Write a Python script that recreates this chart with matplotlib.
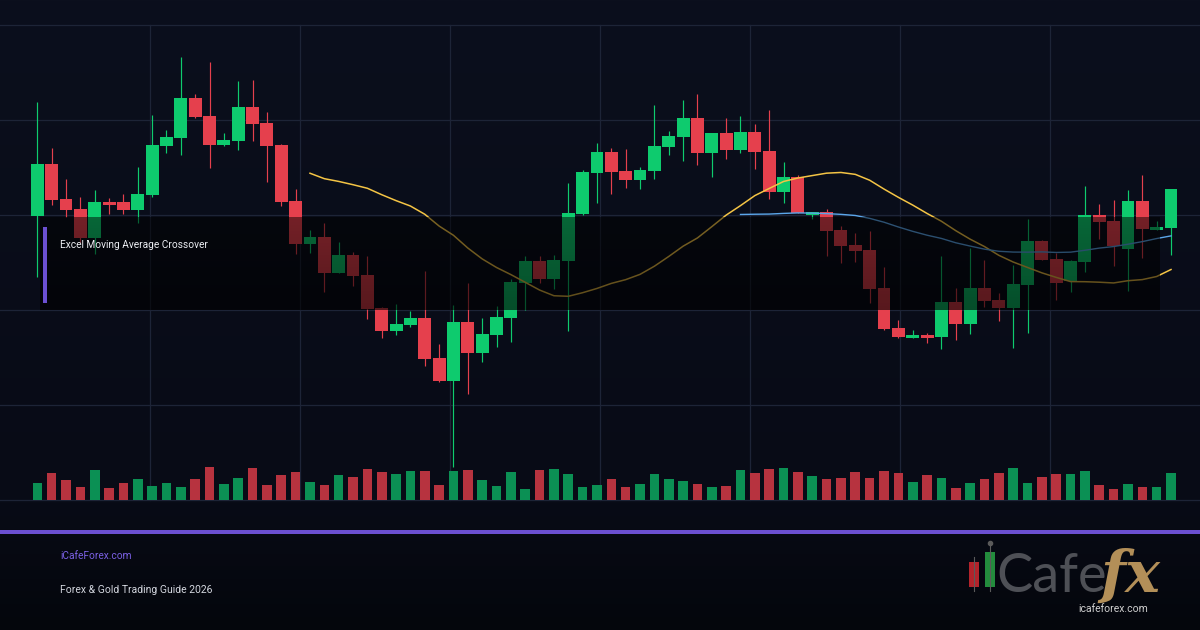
import numpy as np
import pandas as pd
import matplotlib
matplotlib.use("Agg")
import matplotlib.pyplot as plt
from matplotlib.patches import Rectangle

# ---------------- data ----------------
opens = [2184.3, 2236.0, 2201.0, 2191.0, 2162.3, 2198.0, 2198.0, 2190.0, 2205.0, 2254.0,
         2262.0, 2302.0, 2284.0, 2255.0, 2259.0, 2293.0, 2277.0, 2255.0, 2199.0, 2156.0,
         2163.0, 2127.3, 2145.0, 2125.0, 2091.7, 2069.3, 2075.3, 2082.3, 2042.3, 2019.0,
         2078.0, 2047.3, 2065.0, 2082.3, 2117.3, 2139.0, 2121.0, 2139.0, 2186.0, 2227.0,
         2248.0, 2229.0, 2220.0, 2229.0, 2253.0, 2263.0, 2282.0, 2247.0, 2267.0, 2250.0,
         2268.0, 2249.0, 2208.0, 2223.0, 2185.3, 2188.0, 2170.0, 2155.0, 2150.0, 2112.0,
         2072.0, 2062.3, 2065.0, 2063.0, 2098.0, 2076.0, 2112.0, 2100.0, 2092.0, 2115.0,
         2159.3, 2141.0, 2119.0, 2138.3, 2185.0, 2179.0, 2151.3, 2199.0, 2170.0, 2172.0]
highs = [2298.3, 2252.3, 2221.0, 2203.3, 2210.0, 2202.0, 2206.0, 2233.3, 2285.0, 2270.3,
         2343.3, 2306.0, 2338.0, 2267.3, 2319.3, 2320.0, 2288.3, 2256.0, 2211.0, 2170.0,
         2176.7, 2157.7, 2148.3, 2144.0, 2093.3, 2096.0, 2089.3, 2129.0, 2056.0, 2094.7,
         2117.3, 2082.3, 2094.0, 2120.7, 2144.0, 2144.0, 2145.0, 2217.0, 2230.0, 2257.0,
         2252.0, 2251.0, 2233.0, 2295.0, 2269.0, 2300.0, 2306.0, 2267.0, 2282.0, 2284.0,
         2276.0, 2290.0, 2238.0, 2225.0, 2188.0, 2191.0, 2174.0, 2167.0, 2169.0, 2133.0,
         2080.0, 2070.0, 2067.3, 2144.0, 2112.3, 2152.3, 2140.0, 2107.3, 2135.0, 2181.0,
         2160.0, 2147.0, 2140.0, 2214.0, 2196.0, 2200.0, 2210.0, 2225.0, 2179.0, 2211.0]
lows = [2123.3, 2195.0, 2183.3, 2157.0, 2146.0, 2186.3, 2186.3, 2177.3, 2202.7, 2247.3,
        2245.0, 2282.0, 2232.3, 2254.0, 2250.0, 2259.3, 2218.3, 2194.3, 2146.3, 2147.0,
        2108.0, 2127.0, 2114.3, 2080.7, 2062.3, 2065.0, 2073.3, 2034.0, 2018.3, 1933.0,
        2005.7, 2038.3, 2053.3, 2058.3, 2090.0, 2117.3, 2111.0, 2069.3, 2185.0, 2197.3,
        2206.3, 2212.3, 2211.3, 2221.0, 2245.0, 2239.3, 2235.0, 2223.3, 2241.0, 2247.0,
        2231.0, 2201.0, 2197.3, 2187.3, 2181.3, 2144.3, 2137.3, 2138.3, 2097.3, 2070.5,
        2062.0, 2062.3, 2057.3, 2051.3, 2060.0, 2066.3, 2093.3, 2079.3, 2052.3, 2067.3,
        2140.0, 2100.0, 2108.3, 2128.3, 2161.0, 2134.0, 2109.3, 2142.0, 2170.0, 2145.0]
closes = [2236.0, 2200.0, 2190.0, 2162.3, 2198.0, 2195.0, 2190.0, 2206.0, 2255.0, 2263.0,
          2302.0, 2283.0, 2255.0, 2260.0, 2293.0, 2276.0, 2254.0, 2198.0, 2156.0, 2163.0,
          2127.3, 2145.0, 2124.3, 2091.0, 2069.3, 2076.3, 2082.3, 2041.3, 2019.0, 2078.0,
          2047.3, 2066.0, 2083.0, 2118.0, 2139.0, 2121.0, 2140.0, 2187.0, 2228.0, 2248.0,
          2228.3, 2220.0, 2230.0, 2254.0, 2264.0, 2282.0, 2247.0, 2267.0, 2250.0, 2268.0,
          2248.0, 2208.0, 2223.0, 2187.3, 2188.0, 2169.0, 2154.0, 2149.0, 2111.0, 2071.3,
          2063.0, 2065.0, 2062.3, 2098.0, 2076.0, 2112.0, 2099.0, 2092.0, 2116.0, 2159.3,
          2140.0, 2117.0, 2139.0, 2185.0, 2178.0, 2154.0, 2199.0, 2171.0, 2173.0, 2211.0]
volumes = [16.7, 26.7, 19.7, 12.7, 29.7, 11.7, 16.7, 20.7, 13.7, 16.7,
           12.7, 20.7, 32.7, 15.7, 21.7, 31.7, 14.7, 24.7, 27.7, 17.7,
           14.7, 24.7, 22.7, 30.7, 27.7, 25.7, 28.7, 28.7, 14.7, 28.7,
           29.7, 19.7, 13.7, 27.7, 10.7, 29.7, 30.7, 25.7, 12.7, 14.7,
           20.7, 12.7, 15.7, 25.7, 20.7, 18.7, 15.7, 12.7, 13.7, 29.7,
           26.7, 30.7, 31.7, 27.7, 23.7, 20.7, 21.7, 27.7, 21.7, 28.7,
           26.7, 17.7, 24.7, 21.7, 11.7, 16.7, 20.7, 26.7, 31.7, 16.7,
           22.7, 25.7, 25.7, 28.7, 14.7, 10.7, 15.7, 12.7, 12.7, 26.7]
ma_fast_period = 20
ma_slow_period = 50

title_text = "Excel Moving Average Crossover"
site_text = "iCafeForex.com"
guide_text = "Forex & Gold Trading Guide 2026"
logo_word = "Cafe"
logo_fx = "fx"
logo_url = "icafeforex.com"

# ---------------- style ----------------
W, H = 1200, 630
GREEN = "#0ecb6e"
RED = "#e5404d"
VGREEN = "#0b9054"
VRED = "#b7333f"
GRID = "#1d2437"
YELLOW = "#f4c445"
BLUE = "#5ba6ea"
PURPLE = "#6b50d2"

fig = plt.figure(figsize=(12, 6.3), dpi=100)


def fx(px):
    return px / W


def fy(py):
    return 1 - py / H


# background gradient
bg = fig.add_axes([0, 0, 1, 1], zorder=0)
rows = np.linspace(0, 1, 300)[:, None]
top_c = np.array([11, 15, 29]) / 255
mid_c = np.array([8, 11, 22]) / 255
bot_c = np.array([4, 6, 12]) / 255
grad = np.where(rows < 0.8,
                top_c + (mid_c - top_c) * (rows / 0.8),
                mid_c + (bot_c - mid_c) * ((rows - 0.8) / 0.2))
bg.imshow(grad[:, None, :].repeat(2, axis=1), aspect="auto", extent=[0, 1, 0, 1])
bg.set_xlim(0, 1)
bg.set_ylim(0, 1)
bg.axis("off")

plot_rect = [0, fy(500), 1, (500 - 25) / H]

# grid
gax = fig.add_axes(plot_rect, zorder=1)
gax.set_xlim(0, 8)
gax.set_ylim(0, 5)
for k in range(1, 8):
    gax.axvline(k, color=GRID, lw=0.9, clip_on=False)
for k in range(0, 6):
    gax.axhline(k, color=GRID, lw=0.9, clip_on=False)
gax.axis("off")

n = len(closes)
x = np.arange(n)
o = np.array(opens)
h = np.array(highs)
l = np.array(lows)
c = np.array(closes)
up = c >= o
ccol = np.where(up, GREEN, RED)
vcol = np.where(up, VGREEN, VRED)

# price axes
ax = fig.add_axes(plot_rect, zorder=2)
ax.patch.set_alpha(0)
ax.set_xlim(-2.6, 81.02)
ax.set_ylim(1900, 2375)
ax.axis("off")
ax.vlines(x, l, h, colors=ccol, lw=0.85, zorder=2)
body_low = np.minimum(o, c)
body_h = np.maximum(np.abs(c - o), 1.8)
ax.bar(x, body_h, bottom=body_low, width=0.9, color=ccol, zorder=3, linewidth=0)

s = pd.Series(closes)
ma_fast = s.rolling(ma_fast_period).mean()
ma_slow = s.rolling(ma_slow_period).mean()
ax.plot(x, ma_fast, color=YELLOW, lw=1.1, zorder=4)
ax.plot(x, ma_slow, color=BLUE, lw=1.0, zorder=4)

# volume axes
vax = fig.add_axes(plot_rect, zorder=3)
vax.patch.set_alpha(0)
vax.set_xlim(-2.6, 81.02)
vax.set_ylim(0, 475)
vax.axis("off")
vax.bar(x, volumes, width=0.67, color=vcol, linewidth=0)

# dark title box overlay
oax = fig.add_axes([fx(40), fy(310), fx(1120), 93 / H], zorder=4)
alpha = np.linspace(0.5, 0.62, 100)[:, None]
ov = np.zeros((100, 2, 4))
ov[..., 3] = alpha
oax.imshow(ov, aspect="auto", extent=[0, 1, 0, 1])
oax.set_xlim(0, 1)
oax.set_ylim(0, 1)
oax.axis("off")

fig.add_artist(Rectangle((fx(43), fy(303)), fx(4), 76 / H, transform=fig.transFigure,
                         facecolor=PURPLE, edgecolor="none", zorder=10))
fig.text(fx(60), fy(245), title_text, color="#eceef3", fontsize=7.3,
         family="Roboto", va="center", ha="left", zorder=11)

# purple rule
fig.add_artist(Rectangle((0, fy(534)), 1, 4 / H, transform=fig.transFigure,
                         facecolor=PURPLE, edgecolor="none", zorder=10))

# footer
fig.text(fx(60), fy(556), site_text, color="#7a60e4", fontsize=7.3,
         family="Roboto", va="center", ha="left", zorder=11)
fig.text(fx(60), fy(590), guide_text, color="#d3d6de", fontsize=7.5,
         family="Roboto", va="center", ha="left", zorder=11)

# logo
lax = fig.add_axes([fx(960), fy(625), fx(230), 95 / H], zorder=5)
lax.set_xlim(960, 1190)
lax.set_ylim(625, 530)
lax.axis("off")
lax.plot([974, 974], [557, 591], color="#5a5a5a", lw=0.8)
lax.add_patch(Rectangle((969, 562), 10, 25, facecolor="#b3232b", edgecolor="none"))
lax.plot([990, 990], [543, 591], color="#5a5a5a", lw=0.8)
lax.plot([990], [543], marker="o", ms=3, color="#5a5a5a")
lax.add_patch(Rectangle((985, 552), 10, 35, facecolor="#238c3d", edgecolor="none"))
lax.text(996, 592, logo_word, color="#4e5056", fontsize=39, family="Lato",
         fontweight="normal", va="baseline", ha="left")
lax.text(1100, 592, logo_fx, color="#b38f58", fontsize=42, family="DejaVu Serif",
         fontweight="bold", fontstyle="italic", va="baseline", ha="left")
lax.text(1113, 609, logo_url, color="#cfcfcf", fontsize=7.5, family="Roboto",
         va="center", ha="center")

fig.savefig("out.png", dpi=100)
